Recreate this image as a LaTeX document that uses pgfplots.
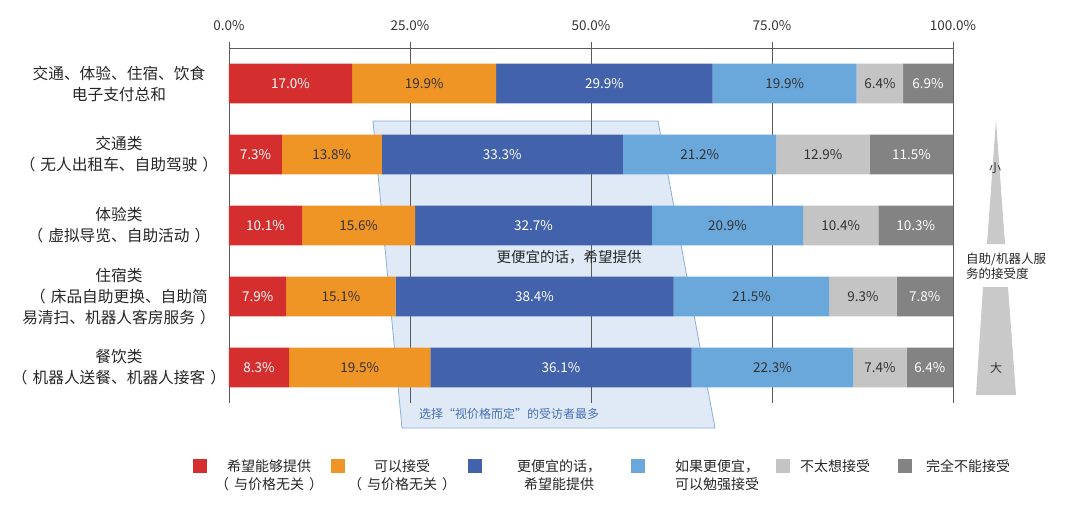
\documentclass[border=0pt]{standalone}
\usepackage{pgfplots}
\pgfplotsset{compat=1.18}
\usepackage{pgfplotstable}
\usepackage{fontspec}
\setmainfont{Noto Sans CJK SC}
\definecolor{c1}{HTML}{D42E2E}
\definecolor{c2}{HTML}{EF9526}
\definecolor{c3}{HTML}{4262AB}
\definecolor{c4}{HTML}{6AA8DC}
\definecolor{c5}{HTML}{C4C4C4}
\definecolor{c6}{HTML}{838383}
\definecolor{gridc}{HTML}{5A5A5A}
\definecolor{txt}{HTML}{333333}
\definecolor{pfill}{HTML}{DFEAF6}
\definecolor{pdraw}{HTML}{8EAED6}
\definecolor{anno}{HTML}{4A6FB5}
\definecolor{tri}{HTML}{C9C9C9}
\newcommand{\lp}{（\hspace{5pt}}
\newcommand{\rp}{\hspace{5pt}）}

\pgfplotstableread{
idx a b c d e f
4 17.0 19.9 29.9 19.9 6.4 6.9
3 7.3 13.8 33.3 21.2 12.9 11.5
2 10.1 15.6 32.7 20.9 10.4 10.3
1 7.9 15.1 38.4 21.5 9.3 7.8
0 8.3 19.5 36.1 22.3 7.4 6.4
}\data

\pgfplotsset{
  lblw/.style={every node near coord/.append style={text=white}},
  lbld/.style={every node near coord/.append style={text=txt}},
}

\begin{document}
\begin{tikzpicture}
\useasboundingbox (0,0) rectangle (1080pt,-519pt);
% highlight band behind the grid
\filldraw[fill=pfill, draw=pdraw, line width=0.8pt]
  (373pt,-121pt) -- (658pt,-121pt) -- (715pt,-428pt) -- (402pt,-428pt) -- cycle;
\begin{axis}[
  at={(229pt,-403pt)}, anchor=south west,
  scale only axis, width=724pt, height=355pt,
  xbar stacked, bar width=0.56,
  xmin=0, xmax=100, ymin=-0.5, ymax=4.5,
  clip=false,
  axis x line*=top, axis y line*=left,
  x axis line style={-, draw=gridc, line width=0.9pt},
  y axis line style={draw=none},
  xtick={0,25,50,75,100},
  xticklabels={0.0\%,25.0\%,50.0\%,75.0\%,100.0\%},
  xticklabel style={font=\fontsize{13.5}{15}\selectfont, text=txt, yshift=8pt},
  tick align=outside, major tick length=6pt,
  xtick style={draw=gridc, line width=0.9pt},
  ytick style={draw=none},
  xmajorgrids, major grid style={draw=gridc, line width=0.9pt},
  ytick={0,1,2,3,4},
  yticklabels={
    {餐饮类\\\lp 机器人送餐、机器人接客\rp},
    {住宿类\\\lp 床品自助更换、自助简\\易清扫、机器人客房服务\rp},
    {体验类\\\lp 虚拟导览、自助活动\rp},
    {交通类\\\lp 无人出租车、自助驾驶\rp},
    {交通、体验、住宿、饮食\\电子支付总和}},
  yticklabel style={font=\fontsize{15.7}{21}\selectfont, text=black!85, align=center, anchor=center, xshift=-104pt},
  /pgf/number format/assume math mode=true,
  point meta=explicit symbolic,
  nodes near coords={\pgfplotspointmeta\%},
  every node near coord/.append style={anchor=center, font=\fontsize{13.5}{15}\selectfont},
  legend columns=6,
  legend style={at={(-0.0497,-0.152)}, anchor=north west, draw=none, fill=none, inner sep=0pt,
    font=\fontsize{14}{18}\selectfont, text=black!85,
    /tikz/column sep=0pt,
    cells={anchor=base west, inner sep=0pt}},
  legend image code/.code={\fill[#1, draw=none] (0pt,-1.5pt) rectangle (14pt,12.5pt);},
]
\addplot[fill=c1, draw=none, lblw] table[x=a,y=idx,meta=a]{\data};
\addplot[fill=c2, draw=none, lbld] table[x=b,y=idx,meta=b]{\data};
\addplot[fill=c3, draw=none, lblw] table[x=c,y=idx,meta=c]{\data};
\addplot[fill=c4, draw=none, lbld] table[x=d,y=idx,meta=d]{\data};
\addplot[fill=c5, draw=none, lbld] table[x=e,y=idx,meta=e]{\data};
\addplot[fill=c6, draw=none, lblw] table[x=f,y=idx,meta=f]{\data};
\addlegendentry{\parbox[t]{120pt}{\centering 希望能够提供\\\lp 与价格无关\rp}}
\addlegendentry{\parbox[t]{119pt}{\centering\hspace*{-9pt}可以接受\\\hspace*{-9pt}\lp 与价格无关\rp}}
\addlegendentry{\parbox[t]{145pt}{\centering\hspace*{5pt}更便宜的话，\\\hspace*{5pt}希望能提供}}
\addlegendentry{\parbox[t]{127pt}{\centering\hspace*{13pt}如果更便宜，\\\hspace*{13pt}可以勉强接受}}
\addlegendentry{\parbox[t]{104pt}{\centering\hspace*{-18pt}不太想接受}}
\addlegendentry{\parbox[t]{108pt}{\centering 完全不能接受}}
\end{axis}
% annotations
\node[font=\fontsize{14.5}{16}\selectfont, text=black!85] at (569pt,-257pt) {更便宜的话，希望提供};
\node[font=\fontsize{12}{14}\selectfont, text=anno] at (509pt,-414pt) {选择“视价格而定”的受访者最多};
% acceptance scale on the right
\fill[tri] (996pt,-120pt) -- (1005pt,-244pt) -- (987pt,-244pt) -- cycle;
\fill[tri] (983pt,-287pt) -- (1008pt,-287pt) -- (1016pt,-395pt) -- (976pt,-395pt) -- cycle;
\node[font=\fontsize{12}{14}\selectfont, text=txt] at (995pt,-168pt) {小};
\node[font=\fontsize{12}{14}\selectfont, text=txt] at (996pt,-368pt) {大};
\node[font=\fontsize{12.5}{15}\selectfont, text=black!85, anchor=west, align=left, inner sep=0pt] at (966pt,-266.5pt) {自助/机器人服\\务的接受度};
\end{tikzpicture}
\end{document}
